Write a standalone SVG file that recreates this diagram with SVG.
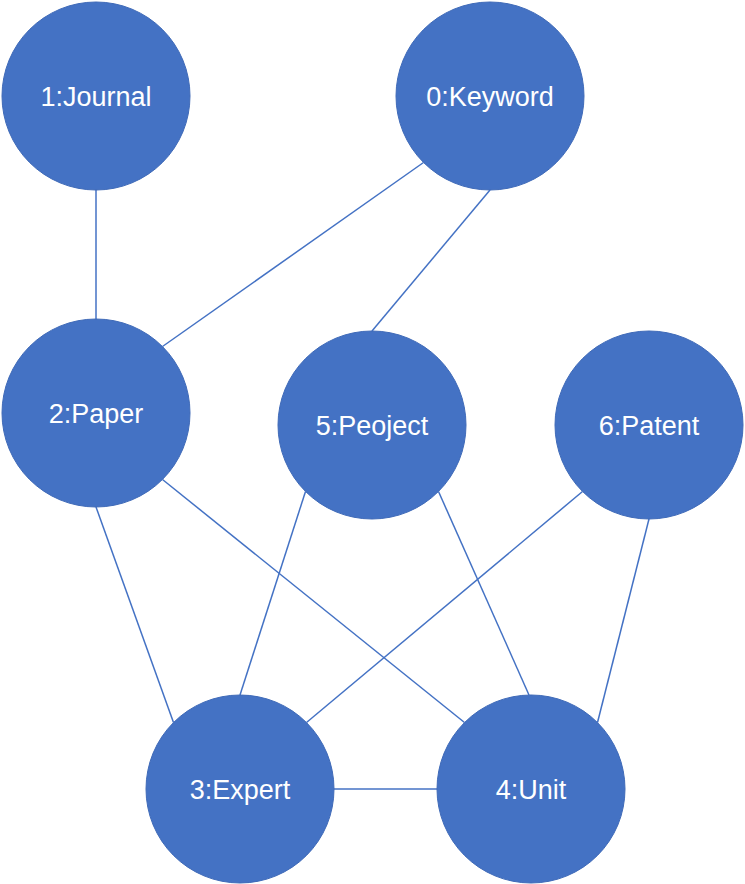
<svg xmlns="http://www.w3.org/2000/svg" width="745" height="884" viewBox="0 0 745 884">
<style>
.node circle{fill:#4472C4;stroke:#3F6AB8;stroke-width:1}
.node text{fill:#FFFFFF;font-family:"Liberation Sans",Arial,sans-serif;font-size:27px;text-anchor:middle}
.edges line{stroke:#4472C4;stroke-width:1.5}
</style>
<rect width="745" height="884" fill="#FFFFFF"/>
<g class="edges" id="connectors">
<line x1="96" y1="190" x2="96" y2="319"/>
<line x1="423.5" y1="162.5" x2="162.5" y2="346.5"/>
<line x1="490" y1="190" x2="372" y2="331"/>
<line x1="96" y1="507" x2="173.5" y2="722.5"/>
<line x1="162.5" y1="479.5" x2="464.5" y2="722.5"/>
<line x1="305.5" y1="491.5" x2="240" y2="695"/>
<line x1="438.5" y1="491.5" x2="529" y2="695"/>
<line x1="582.5" y1="491.5" x2="306.5" y2="722.5"/>
<line x1="649" y1="519" x2="597.5" y2="722.5"/>
<line x1="334" y1="789" x2="437" y2="789"/>
</g>
<g class="node" id="node-journal"><circle cx="96" cy="96" r="94"/><text x="96" y="106">1:Journal</text></g>
<g class="node" id="node-keyword"><circle cx="490" cy="96" r="94"/><text x="490" y="106">0:Keyword</text></g>
<g class="node" id="node-paper"><circle cx="96" cy="413" r="94"/><text x="96" y="423">2:Paper</text></g>
<g class="node" id="node-peoject"><circle cx="372" cy="425" r="94"/><text x="372" y="435">5:Peoject</text></g>
<g class="node" id="node-patent"><circle cx="649" cy="425" r="94"/><text x="649" y="435">6:Patent</text></g>
<g class="node" id="node-expert"><circle cx="240" cy="789" r="94"/><text x="240" y="799">3:Expert</text></g>
<g class="node" id="node-unit"><circle cx="531" cy="789" r="94"/><text x="531" y="799">4:Unit</text></g>
</svg>
